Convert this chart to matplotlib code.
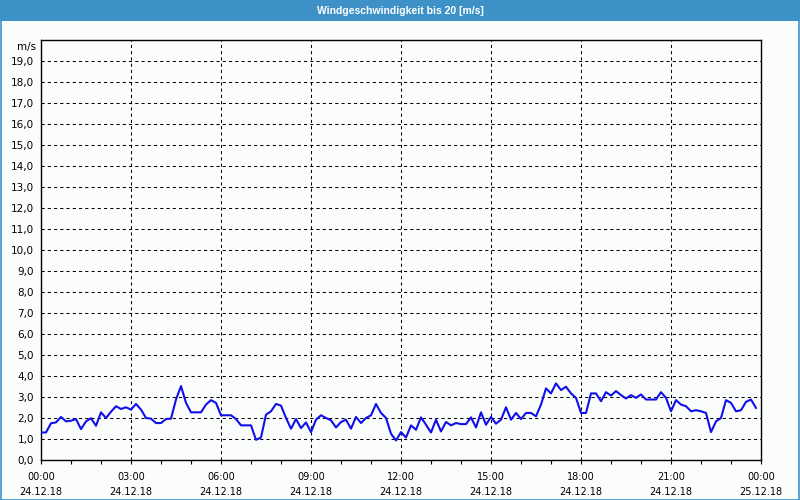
import matplotlib
matplotlib.use("Agg")
import matplotlib.pyplot as plt
from matplotlib.patches import Rectangle
import numpy as np

# wind speed every 10 minutes, 24.12.18 00:00 .. 23:50
wind = [
    1.31, 1.31, 1.75, 1.79, 2.05, 1.84, 1.87, 1.95, 1.47, 1.84,
    1.99, 1.63, 2.27, 2.00, 2.30, 2.56, 2.43, 2.51, 2.40, 2.67,
    2.40, 2.00, 1.97, 1.76, 1.76, 1.95, 1.97, 2.88, 3.52, 2.72,
    2.27, 2.27, 2.27, 2.64, 2.85, 2.72, 2.13, 2.13, 2.13, 1.95,
    1.65, 1.65, 1.65, 0.96, 1.07, 2.16, 2.32, 2.67, 2.59, 2.00,
    1.49, 1.95, 1.52, 1.79, 1.33, 1.92, 2.13, 2.00, 1.89, 1.55,
    1.81, 1.92, 1.49, 2.05, 1.76, 2.00, 2.13, 2.67, 2.24, 2.00,
    1.25, 0.93, 1.33, 1.07, 1.65, 1.44, 2.03, 1.68, 1.31, 1.92,
    1.36, 1.81, 1.65, 1.76, 1.71, 1.71, 2.03, 1.55, 2.27, 1.68,
    2.05, 1.73, 1.92, 2.51, 1.92, 2.24, 1.95, 2.24, 2.24, 2.08,
    2.64, 3.41, 3.17, 3.65, 3.33, 3.49, 3.17, 2.96, 2.24, 2.24,
    3.17, 3.17, 2.80, 3.23, 3.07, 3.28, 3.09, 2.93, 3.09, 2.96,
    3.12, 2.88, 2.88, 2.88, 3.23, 2.96, 2.32, 2.85, 2.64, 2.56,
    2.32, 2.37, 2.32, 2.24, 1.33, 1.84, 2.00, 2.85, 2.72, 2.32,
    2.37, 2.77, 2.88, 2.48,
]
hours = np.arange(len(wind)) / 6.0

xtick_hours = [0, 3, 6, 9, 12, 15, 18, 21, 24]
xtick_labels = ["00:00\n24.12.18", "03:00\n24.12.18", "06:00\n24.12.18",
                "09:00\n24.12.18", "12:00\n24.12.18", "15:00\n24.12.18",
                "18:00\n24.12.18", "21:00\n24.12.18", "00:00\n25.12.18"]
ytick_vals = list(range(0, 20))
ytick_labels = [f"{v},0" for v in ytick_vals]
title = "Windgeschwindigkeit bis 20 [m/s]"
unit = "m/s"

W, H = 800, 500
fig = plt.figure(figsize=(8, 5), dpi=100, facecolor="#fbfdfc")
blue = "#3d91c7"

# title bar
fig.patches.append(Rectangle((0, 1 - 21 / H), 1, 21 / H, transform=fig.transFigure,
                             facecolor=blue, edgecolor="none", zorder=0))
# border
fig.patches.append(Rectangle((0.5 / W, 0.5 / H), 1 - 1.5 / W, 1 - 1.5 / H,
                             transform=fig.transFigure, facecolor="none",
                             edgecolor=blue, linewidth=1.2, zorder=5))
fig.text(0.5, 1 - 10.5 / H, title, color="white", fontsize=7.5, fontweight="bold",
         ha="center", va="center", family="Liberation Sans")

ax = fig.add_axes([41 / W, 40 / H, 720 / W, 420 / H])
ax.set_facecolor("#fbfdfc")
ax.plot(hours, wind, color="#1010e8", linewidth=1.5, zorder=3)

ax.set_xlim(0, 24)
ax.set_ylim(0, 20)
ax.set_xticks(xtick_hours)
ax.set_xticklabels(xtick_labels, fontsize=7, linespacing=1.6)
ax.set_xticks(np.arange(0, 25, 1), minor=True)
ax.set_yticks(ytick_vals)
ax.set_yticklabels(ytick_labels, fontsize=7.5)
ax.tick_params(axis="x", which="both", direction="out", length=3, width=0.8, pad=6)
ax.tick_params(axis="y", length=0, pad=5)

for v in range(1, 20):
    ax.axhline(v, color="black", linewidth=0.75, linestyle=(0, (3, 3)), zorder=1)
for h in xtick_hours[1:-1]:
    ax.axvline(h, color="black", linewidth=0.75, linestyle=(0, (3, 3)), zorder=1)

for s in ax.spines.values():
    s.set_color("black")
    s.set_linewidth(1.0)

ax.text(-5 / 720, 1 - 7 / 420, unit, transform=ax.transAxes, ha="right", va="center",
        fontsize=7.5)

fig.savefig("out.png", dpi=100, facecolor=fig.get_facecolor())
